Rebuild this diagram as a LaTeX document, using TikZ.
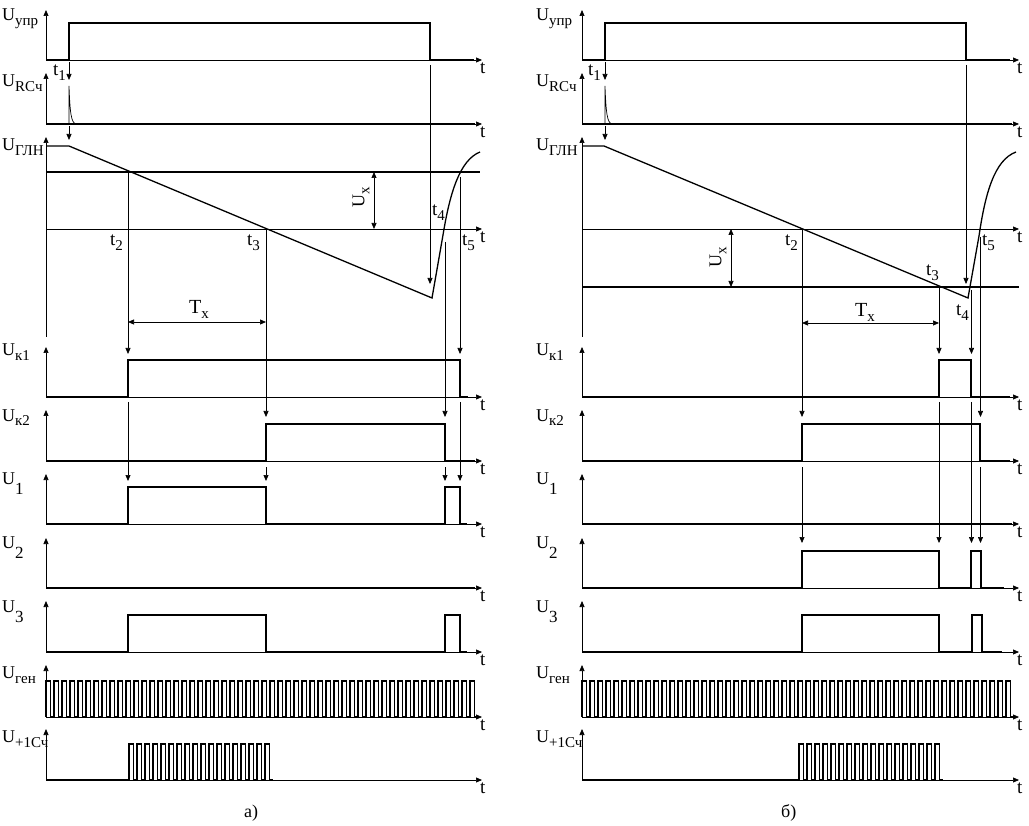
\documentclass[tikz,border=0pt]{standalone}
\usepackage{fontspec}
\setmainfont{Liberation Serif}
\usetikzlibrary{arrows.meta}
\newcommand{\mainf}{\fontsize{18}{19}\selectfont}
\newcommand{\tfont}{\fontsize{19}{19}\selectfont}
\newcommand{\subtx}[1]{\raisebox{-5pt}{\fontsize{15}{15}\selectfont #1}}
\newcommand{\subdg}[1]{\raisebox{-10pt}{\fontsize{17}{17}\selectfont #1}}

\begin{document}
\begin{tikzpicture}[x=1pt, y=-1pt,
    axis/.style={line width=0.7pt, -{Triangle[length=6pt,width=5pt]}},
    evt/.style={line width=0.7pt, -{Triangle[length=6pt,width=5pt]}},
    dim/.style={line width=0.7pt, {Triangle[length=6pt,width=5pt]}-{Triangle[length=6pt,width=5pt]}},
    sig/.style={line width=1.5pt},
    ramp/.style={line width=1.3pt},
    pulse/.style={line width=1.1pt},
    lbl/.style={anchor=base west, inner sep=0pt, font=\mainf},
    tlbl/.style={anchor=north west, inner sep=0pt, font=\tfont}]
    \useasboundingbox (0,0) rectangle (1029,826);

    % Axes of all rows, both panels
    \foreach \xa/\xb/\p in {46/482/a, 582/1019/b} {
        \foreach \ya/\yt in {60/10, 124/73, 397/347, 461/410, 524/474, 588/538, 652/601, 717/665, 780/729} {
            \draw[axis] (\xa,\ya) -- (\xb,\ya);
            \draw[axis] (\xa,\ya) -- (\xa,\yt);
            \node[tlbl] (t\p\ya) at (\xb-2,\ya+3) {t};
        }
        \draw[axis] (\xa,229) -- (\xb,229);
        \draw[axis] (\xa,337) -- (\xa,137);
        \node[tlbl] (t\p229) at (\xb-2,232) {t};
    }

    % Row labels
    \foreach \xl/\p in {2/a, 536/b} {
        \node[lbl] (upr\p) at (\xl,21) {U\subtx{упр}};
        \node[lbl] (rc\p) at (\xl,87) {U\subtx{RCч}};
        \node[lbl] (gln\p) at (\xl,151) {U\subtx{ГЛН}};
        \node[lbl] (kA\p) at (\xl,356) {U\subtx{к1}};
        \node[lbl] (kB\p) at (\xl,421) {U\subtx{к2}};
        \node[lbl] (uA\p) at (\xl,484) {U\subdg{1}};
        \node[lbl] (uB\p) at (\xl,548) {U\subdg{2}};
        \node[lbl] (uC\p) at (\xl,612) {U\subdg{3}};
        \node[lbl] (gen\p) at (\xl,678) {U\subtx{ген}};
        \node[lbl] (cnt\p) at (\xl,742) {U\subtx{+1Сч}};
    }

    % ---------- panel a) ----------
    \draw[sig] (46,60) -- (69,60) -- (69,23) -- (430,23) -- (430,60) -- (474,60);
    \draw[sig] (46,124) -- (475,124);
    \draw[line width=0.7pt] (69,124) -- (69,86) .. controls (70,112) and (71,123) .. (76,124);
    \draw[ramp] (46,146) -- (69,146) -- (432,298) -- (443,235)
        .. controls (450,192) and (460,160) .. (480,152);
    \draw[sig] (46,172) -- (480,172);
    \draw[sig] (46,397) -- (128,397) -- (128,360) -- (460,360) -- (460,397) -- (468,397);
    \draw[sig] (46,461) -- (266,461) -- (266,424) -- (445,424) -- (445,461) -- (475,461);
    \draw[sig] (46,524) -- (128,524) -- (128,487) -- (266,487) -- (266,524) -- (445,524)
        -- (445,487) -- (460,487) -- (460,524) -- (467,524);
    \draw[sig] (46,588) -- (475,588);
    \draw[sig] (46,652) -- (128,652) -- (128,615) -- (266,615) -- (266,652) -- (445,652)
        -- (445,615) -- (460,615) -- (460,652) -- (467,652);
    \draw[pulse] (46,717) \foreach \k in {0,...,53} { -- ++(0,-36) -- ++(4.5,0) -- ++(0,36) -- ++(3.5,0) };
    \draw[pulse] (46,780) -- (129,780) \foreach \k in {0,...,17} { -- ++(0,-36) -- ++(4.5,0) -- ++(0,36) -- ++(3.5,0) };

    % event arrows a)
    \draw[evt] (69,62) -- (69,80);
    \draw[evt] (69,126) -- (69,140);
    \draw[evt] (430,65) -- (430,284);
    \draw[evt] (128,172) -- (128,354);
    \draw[evt] (128,402) -- (128,481);
    \draw[evt] (266,229) -- (266,417);
    \draw[evt] (266,467) -- (266,481);
    \draw[evt] (445,242) -- (445,417);
    \draw[evt] (445,467) -- (445,481);
    \draw[evt] (460,177) -- (460,354);
    \draw[evt] (460,402) -- (460,481);
    \draw[dim] (374,172) -- (374,229);
    \draw[dim] (128,322) -- (266,322);

    \node[lbl, font=\tfont] (ta1) at (53,76) {t\subtx{1}};
    \node[lbl, font=\tfont] (ta2) at (110,246) {t\subtx{2}};
    \node[lbl, font=\tfont] (ta3) at (247,246) {t\subtx{3}};
    \node[lbl, font=\tfont] (ta4) at (432,216) {t\subtx{4}};
    \node[lbl, font=\tfont] (ta5) at (462,246) {t\subtx{5}};
    \node[lbl, font=\fontsize{20}{20}\selectfont] (txa) at (189,314) {T\subtx{x}};
    \node[font=\mainf, rotate=90, inner sep=0pt] (uxa) at (361,197) {U\subtx{x}};
    \node[lbl] (capa) at (244,817) {а)};

    % ---------- panel b) ----------
    \draw[sig] (582,60) -- (605,60) -- (605,23) -- (966,23) -- (966,60) -- (1010,60);
    \draw[sig] (582,124) -- (1012,124);
    \draw[line width=0.7pt] (605,124) -- (605,86) .. controls (606,112) and (607,123) .. (612,124);
    \draw[ramp] (582,146) -- (604,146) -- (968,298) -- (979,236)
        .. controls (985,195) and (994,160) .. (1016,152);
    \draw[sig] (582,287) -- (1019,287);
    \draw[sig] (582,397) -- (939,397) -- (939,360) -- (971,360) -- (971,397) -- (1010,397);
    \draw[sig] (582,461) -- (802,461) -- (802,424) -- (980,424) -- (980,461) -- (1010,461);
    \draw[sig] (582,524) -- (1012,524);
    \draw[sig] (582,588) -- (802,588) -- (802,551) -- (939,551) -- (939,588) -- (971,588)
        -- (971,551) -- (981,551) -- (981,588) -- (1004,588);
    \draw[sig] (582,652) -- (802,652) -- (802,615) -- (939,615) -- (939,652) -- (972,652)
        -- (972,615) -- (982,615) -- (982,652) -- (1002,652);
    \draw[pulse] (582,717) \foreach \k in {0,...,53} { -- ++(0,-36) -- ++(4.5,0) -- ++(0,36) -- ++(3.5,0) };
    \draw[pulse] (582,780) -- (799,780) \foreach \k in {0,...,17} { -- ++(0,-36) -- ++(4.5,0) -- ++(0,36) -- ++(3.5,0) };

    % event arrows b)
    \draw[evt] (605,62) -- (605,80);
    \draw[evt] (605,126) -- (605,140);
    \draw[evt] (966,65) -- (966,284);
    \draw[evt] (802,229) -- (802,417);
    \draw[evt] (802,467) -- (802,543);
    \draw[evt] (939,287) -- (939,354);
    \draw[evt] (939,402) -- (939,543);
    \draw[evt] (971.5,290) -- (971.5,354);
    \draw[evt] (971.5,402) -- (971.5,543);
    \draw[evt] (980.5,237) -- (980.5,417);
    \draw[evt] (980.5,467) -- (980.5,543);
    \draw[dim] (731,229) -- (731,287);
    \draw[dim] (802,323) -- (939,323);

    \node[lbl, font=\tfont] (tb1) at (588,76) {t\subtx{1}};
    \node[lbl, font=\tfont] (tb2) at (785,246) {t\subtx{2}};
    \node[lbl, font=\tfont] (tb3) at (926,276) {t\subtx{3}};
    \node[lbl, font=\tfont] (tb4) at (956,316) {t\subtx{4}};
    \node[lbl, font=\tfont] (tb5) at (982,246) {t\subtx{5}};
    \node[lbl, font=\fontsize{20}{20}\selectfont] (txb) at (855,317) {T\subtx{x}};
    \node[font=\mainf, rotate=90, inner sep=0pt] (uxb) at (718,257) {U\subtx{x}};
    \node[lbl] (capb) at (781,817) {б)};
\end{tikzpicture}
\end{document}
